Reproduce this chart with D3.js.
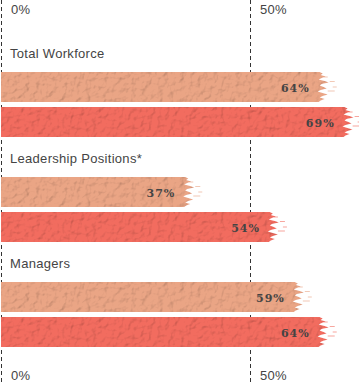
<!DOCTYPE html>
<html>
<head>
<meta charset="utf-8">
<script src="https://cdn.jsdelivr.net/npm/d3@7"></script>
<style>
  html, body { margin: 0; padding: 0; background: #fff; }
  svg { display: block; }
</style>
</head>
<body>
<div id="chart"></div>
<script>
const categories = ["Total Workforce", "Leadership Positions*", "Managers"];
const seriesNames = ["A", "B"];
const seriesA = [64, 37, 59];
const seriesB = [69, 54, 64];
const tickValues = [0, 50];
const tickLabels = ["0%", "50%"];

const W = 359, H = 382;
const colors = ["#eaa585", "#f26c5f"];

const svg = d3.select("#chart").append("svg")
  .attr("width", W).attr("height", H);

const defs = svg.append("defs");
const f = defs.append("filter").attr("id", "tex")
  .attr("x", "-5%").attr("y", "-10%").attr("width", "115%").attr("height", "120%");
f.append("feTurbulence").attr("type", "fractalNoise").attr("baseFrequency", "0.18")
  .attr("numOctaves", 3).attr("seed", 11).attr("result", "noise");
const dl = f.append("feDiffuseLighting").attr("in", "noise").attr("lighting-color", "#fff")
  .attr("surfaceScale", 1.4).attr("diffuseConstant", 1.1).attr("result", "light");
dl.append("feDistantLight").attr("azimuth", 225).attr("elevation", 65);
f.append("feComposite").attr("in", "light").attr("in2", "SourceGraphic").attr("operator", "in").attr("result", "l2");
f.append("feBlend").attr("in", "SourceGraphic").attr("in2", "l2").attr("mode", "multiply");

const x = d3.scaleLinear().domain([0, 50]).range([1, 250]);
const y = d3.scaleBand().domain(categories).range([40, 355]).paddingInner(0).paddingOuter(0);
const yInner = d3.scaleBand().domain(seriesNames).range([32, 97]).paddingInner(1/7).paddingOuter(0);

// grid lines
svg.append("g").selectAll("line").data(tickValues).join("line")
  .attr("x1", d => Math.round(x(d)) + 0.5).attr("x2", d => Math.round(x(d)) + 0.5)
  .attr("y1", 0).attr("y2", H)
  .attr("stroke", "#333").attr("stroke-width", 1).attr("stroke-dasharray", "4,3");

// tick labels top & bottom
[9, 375].forEach(yy => {
  svg.append("g").selectAll("text").data(tickValues).join("text")
    .attr("x", d => x(d) + 10).attr("y", yy)
    .attr("dy", "0.35em")
    .attr("font-family", "'Liberation Sans', Arial, sans-serif")
    .attr("font-size", 13).attr("fill", "#444")
    .attr("letter-spacing", 0.3)
    .text((d, i) => tickLabels[i]);
});

// jagged edge style pattern (decorative offsets)
const jag = [0, 3, 1, 6, 2, -1, 5, 9, 2, 0, 4, 7, 1, -2, 3, 8, 3, 0, 5, 1, -1];
function barPath(x0, x1, y0, h) {
  const n = jag.length;
  let p = `M${x0},${y0} L${x1 - 2},${y0}`;
  for (let i = 0; i < n; i++) {
    const yy = y0 + h * i / (n - 1);
    p += ` L${x1 + jag[i]},${yy}`;
  }
  p += ` L${x1 - 4},${y0 + h} L${x0},${y0 + h} Z`;
  return p;
}
function specks(x1, y0, h) {
  return `M${x1 + 10},${y0 + h * 0.3} h5 v1 h-5 Z M${x1 + 8},${y0 + h * 0.62} h7 v1 h-7 Z M${x1 + 13},${y0 + h * 0.48} h4 v1 h-4 Z M${x1 + 4},${y0 + h * 0.15} h4 v1 h-4 Z`;
}

const rows = categories.map((c, i) => ({ cat: c, vals: [seriesA[i], seriesB[i]] }));

const g = svg.append("g").selectAll("g").data(rows).join("g")
  .attr("transform", d => `translate(0,${y(d.cat)})`);

g.append("text")
  .attr("x", 10).attr("y", 18)
  .attr("font-family", "'Liberation Sans', Arial, sans-serif")
  .attr("font-size", 13).attr("fill", "#444")
  .attr("letter-spacing", 0.3)
  .text(d => d.cat);

const bars = g.selectAll("g.bar").data(d => d.vals.map((v, j) => ({ v, s: seriesNames[j], j })))
  .join("g").attr("class", "bar");

bars.append("path")
  .attr("d", d => barPath(x(0), x(d.v), yInner(d.s), yInner.bandwidth()))
  .attr("fill", d => colors[d.j])
  .attr("filter", "url(#tex)");
bars.append("path")
  .attr("d", d => specks(x(d.v), yInner(d.s), yInner.bandwidth()))
  .attr("fill", d => colors[d.j]).attr("opacity", 0.6);

bars.append("text")
  .attr("x", d => x(d.v) - 10)
  .attr("y", d => yInner(d.s) + yInner.bandwidth() / 2 + 1)
  .attr("dy", "0.35em")
  .attr("text-anchor", "end")
  .attr("font-family", "'DejaVu Serif', Georgia, serif")
  .attr("font-weight", "bold")
  .attr("font-size", 11)
  .attr("letter-spacing", 1)
  .attr("fill", "#444")
  .text(d => d.v + "%");
</script>
</body>
</html>
